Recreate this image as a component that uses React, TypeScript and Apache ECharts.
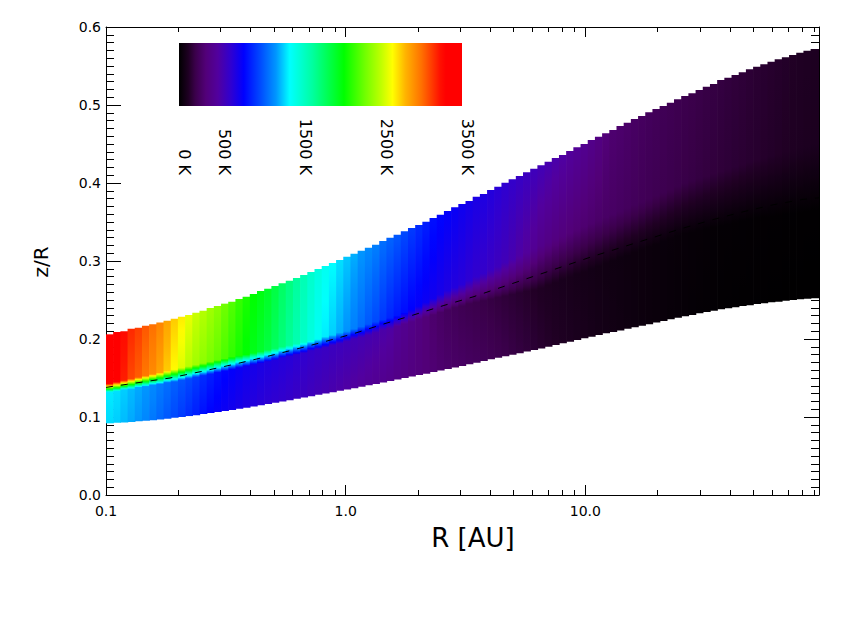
import React, { useEffect, useRef } from "react";
import * as echarts from "echarts";

// ---------------- data ----------------
const R_MIN = 0.1;
const R_MAX = 94.4;
const LOG_STEP = 0.03; // radial column width (decades)

// upper surface of the disk (z/R) per radial column
const zTop = [
  0.206, 0.209, 0.210, 0.213, 0.2145, 0.217, 0.219, 0.221, 0.2235, 0.226,
  0.2286, 0.2308, 0.2338, 0.2363, 0.2397, 0.2423, 0.2453, 0.2478, 0.2513, 0.2543,
  0.2577, 0.2615, 0.2645, 0.268, 0.2714, 0.2748, 0.2782, 0.2821, 0.2859, 0.2897,
  0.2936, 0.2974, 0.3013, 0.3055, 0.3094, 0.3132, 0.3171, 0.3209, 0.3256, 0.3299,
  0.3338, 0.338, 0.3423, 0.3462, 0.3504, 0.3551, 0.3594, 0.3641, 0.3688, 0.3731,
  0.3769, 0.3825, 0.3859, 0.391, 0.3953, 0.4004, 0.4047, 0.409, 0.4137, 0.4184,
  0.4227, 0.4274, 0.4321, 0.4359, 0.441, 0.4457, 0.45, 0.4551, 0.4594, 0.4637,
  0.4679, 0.4731, 0.4774, 0.4821, 0.4859, 0.4906, 0.4949, 0.4987, 0.503, 0.5073,
  0.5115, 0.515, 0.5192, 0.5235, 0.5269, 0.5321, 0.535, 0.5385, 0.5419, 0.5457,
  0.5491, 0.5522, 0.5556, 0.5586, 0.5612, 0.5641, 0.5671, 0.5697, 0.5718,
];
// lower surface of the disk (z/R)
const zBottom = [
  0.0919, 0.0925, 0.0931, 0.0937, 0.0944, 0.0951, 0.0959, 0.0968, 0.0978, 0.0989,
  0.1, 0.1012, 0.1024, 0.1037, 0.105, 0.1063, 0.1077, 0.1091, 0.1105, 0.112,
  0.1136, 0.1152, 0.1168, 0.1184, 0.12, 0.1216, 0.1233, 0.125, 0.1267, 0.1284,
  0.1301, 0.1318, 0.1335, 0.1352, 0.137, 0.1388, 0.1406, 0.1424, 0.1442, 0.1461,
  0.148, 0.1499, 0.1518, 0.1537, 0.1556, 0.1576, 0.1596, 0.1616, 0.1635, 0.1655,
  0.1676, 0.1697, 0.1718, 0.1739, 0.176, 0.1778, 0.1798, 0.1818, 0.1839, 0.1859,
  0.1878, 0.1902, 0.1923, 0.1944, 0.1966, 0.1987, 0.2009, 0.203, 0.2051, 0.2073,
  0.2091, 0.211, 0.213, 0.215, 0.2171, 0.219, 0.221, 0.2231, 0.2252, 0.2273,
  0.2291, 0.2308, 0.2329, 0.2346, 0.2363, 0.238, 0.2393, 0.2406, 0.2423, 0.2434,
  0.2449, 0.2459, 0.247, 0.2479, 0.2491, 0.25, 0.2509, 0.2517, 0.2524,
];
// top of the temperature transition layer (z/R)
const zTransTop = [
  0.143, 0.145, 0.147, 0.149, 0.151, 0.153, 0.155, 0.157, 0.159, 0.161,
  0.163, 0.165, 0.167, 0.169, 0.171, 0.173, 0.175, 0.177, 0.179, 0.18,
  0.182, 0.184, 0.186, 0.188, 0.19, 0.192, 0.194, 0.196, 0.198, 0.2,
  0.203, 0.205, 0.208, 0.21, 0.213, 0.216, 0.219, 0.222, 0.225, 0.227,
  0.23, 0.234, 0.238, 0.242, 0.247, 0.252, 0.257, 0.262, 0.266, 0.27,
  0.275, 0.28, 0.284, 0.289, 0.293, 0.298, 0.302, 0.307, 0.311, 0.316,
  0.32, 0.324, 0.328, 0.332, 0.336, 0.34, 0.344, 0.348, 0.352, 0.356,
  0.36, 0.364, 0.368, 0.372, 0.376, 0.38, 0.384, 0.388, 0.392, 0.396,
  0.4, 0.403, 0.406, 0.409, 0.412, 0.415, 0.418, 0.421, 0.424, 0.427,
  0.43, 0.432, 0.435, 0.437, 0.44, 0.442, 0.445, 0.447, 0.45,
];
// bottom of the temperature transition layer (z/R)
const zTransBottom = [
  0.132, 0.133, 0.135, 0.136, 0.138, 0.139, 0.141, 0.142, 0.144, 0.145,
  0.147, 0.149, 0.151, 0.153, 0.155, 0.157, 0.159, 0.161, 0.163, 0.165,
  0.167, 0.169, 0.171, 0.173, 0.176, 0.178, 0.18, 0.182, 0.185, 0.187,
  0.189, 0.192, 0.194, 0.197, 0.2, 0.202, 0.205, 0.208, 0.211, 0.213,
  0.216, 0.219, 0.222, 0.225, 0.228, 0.231, 0.234, 0.237, 0.24, 0.242,
  0.245, 0.247, 0.249, 0.251, 0.253, 0.255, 0.257, 0.259, 0.261, 0.263,
  0.265, 0.269, 0.272, 0.276, 0.279, 0.283, 0.286, 0.29, 0.293, 0.297,
  0.3, 0.304, 0.307, 0.311, 0.314, 0.318, 0.321, 0.325, 0.328, 0.332,
  0.335, 0.337, 0.339, 0.341, 0.343, 0.345, 0.347, 0.349, 0.351, 0.353,
  0.355, 0.356, 0.357, 0.358, 0.36, 0.361, 0.362, 0.363, 0.365,
];
// temperatures (K)
const tSurface = [
  3450, 3380, 3250, 3170, 3120, 3060, 3000, 2940, 2850, 2750,
  2680, 2590, 2520, 2470, 2420, 2370, 2300, 2230, 2160, 2100,
  2040, 2000, 1950, 1880, 1800, 1730, 1660, 1590, 1520, 1460,
  1410, 1370, 1320, 1280, 1240, 1200, 1170, 1140, 1100, 1070,
  1040, 1000, 960, 920, 880, 840, 810, 790, 770, 750,
  730, 715, 700, 685, 665, 645, 625, 605, 590, 575,
  560, 540, 520, 495, 470, 450, 425, 400, 370, 335,
  305, 295, 285, 272, 260, 250, 242, 234, 226, 218,
  210, 204, 198, 192, 186, 180, 174, 168, 162, 156,
  150, 145, 140, 135, 130, 122, 118, 114, 110,
];
const tAboveTrans = [
  3350, 3300, 3200, 3100, 3050, 2980, 2920, 2850, 2750, 2650,
  2560, 2480, 2420, 2370, 2320, 2270, 2210, 2150, 2090, 2030,
  1980, 1930, 1880, 1810, 1740, 1670, 1600, 1530, 1460, 1400,
  1340, 1290, 1240, 1190, 1140, 1090, 1040, 1000, 950, 900,
  860, 830, 800, 780, 760, 740, 720, 700, 685, 670,
  650, 635, 620, 600, 580, 560, 530, 500, 470, 440,
  400, 380, 360, 345, 330, 318, 306, 295, 285, 275,
  270, 262, 254, 246, 238, 230, 223, 216, 209, 202,
  195, 189, 183, 177, 171, 165, 160, 155, 150, 145,
  140, 135, 130, 125, 120, 114, 110, 106, 102,
];
const tBelowTrans = [
  1340, 1320, 1290, 1260, 1230, 1200, 1170, 1130, 1100, 1060,
  1030, 1000, 960, 920, 880, 840, 810, 790, 770, 750,
  730, 715, 700, 690, 680, 670, 655, 640, 625, 610,
  600, 590, 580, 570, 560, 550, 540, 530, 515, 500,
  450, 420, 390, 360, 330, 300, 275, 255, 240, 225,
  215, 205, 195, 185, 175, 165, 155, 145, 135, 125,
  115, 108, 101, 95, 89, 83, 78, 73, 68, 63,
  58, 54, 50, 47, 44, 41, 38, 35, 32, 29,
  26, 24, 22, 20, 18, 16, 15, 14, 13, 12,
  11, 11, 10, 10, 9, 9, 8, 8, 8,
];
const tMidplane = [
  1310, 1290, 1260, 1230, 1200, 1160, 1120, 1080, 1040, 1000,
  960, 920, 880, 840, 800, 780, 760, 740, 720, 700,
  680, 665, 650, 640, 630, 615, 600, 585, 570, 555,
  540, 525, 510, 495, 480, 465, 450, 435, 420, 405,
  390, 375, 360, 345, 330, 315, 300, 290, 280, 270,
  260, 250, 240, 230, 218, 205, 192, 180, 168, 155,
  143, 132, 122, 113, 105, 98, 91, 84, 78, 72,
  66, 60, 55, 50, 45, 40, 36, 32, 28, 25,
  22, 19, 16, 14, 12, 10, 9, 8, 7, 6,
  5, 5, 4, 4, 3, 3, 3, 2, 2,
];

// dashed curve
const dashR = [0.1, 0.136, 0.185, 0.247, 0.336, 0.448, 0.603, 0.804, 1.084, 1.432, 1.927, 2.57, 3.4, 4.53, 6.04, 8.07, 10.76, 14.35, 19.1, 25.5, 34.0, 45.4, 60.6, 80.9, 94.4];
const dashZ = [0.138, 0.144, 0.15, 0.158, 0.167, 0.176, 0.186, 0.196, 0.207, 0.219, 0.231, 0.243, 0.254, 0.267, 0.28, 0.293, 0.306, 0.318, 0.33, 0.342, 0.353, 0.363, 0.372, 0.379, 0.381];

// colour table (temperature K -> rgb)
const cmapT = [0, 120, 200, 330, 480, 640, 800, 1000, 1200, 1370, 1650, 2040, 2300, 2500, 2640, 2800, 3000, 3230, 3300, 3500];
const cmapRGB = [
  [0, 0, 0], [32, 0, 36], [58, 0, 74], [82, 0, 120], [82, 0, 158], [48, 0, 208],
  [0, 0, 255], [0, 72, 255], [0, 150, 255], [0, 255, 255], [0, 255, 160], [0, 255, 0],
  [112, 255, 0], [192, 255, 0], [255, 255, 0], [255, 180, 0], [255, 112, 0], [255, 16, 0],
  [255, 0, 0], [255, 0, 0],
];
const T_MAX = 3500;
const barTicks = [0, 500, 1500, 2500, 3500];
const barLabels = ["0 K", "500 K", "1500 K", "2500 K", "3500 K"];

const xMinorTicks = [0.2, 0.3, 0.4, 0.5, 0.6, 0.7, 0.8, 0.9, 2, 3, 4, 5, 6, 7, 8, 9, 20, 30, 40, 50, 60, 70, 80, 90];

// ---------------- helpers ----------------
function tempColor(t: number): string {
  const tt = Math.max(0, Math.min(T_MAX, t));
  let j = 0;
  while (j < cmapT.length - 2 && tt > cmapT[j + 1]) j++;
  const f = (tt - cmapT[j]) / (cmapT[j + 1] - cmapT[j] || 1);
  const a = cmapRGB[j], b = cmapRGB[j + 1];
  const c = a.map((v, k) => Math.round(v + (b[k] - v) * f));
  return `rgb(${c[0]},${c[1]},${c[2]})`;
}

const FONT = "DejaVu Sans";

export default function App() {
  const ref = useRef<HTMLDivElement>(null);

  useEffect(() => {
    if (!ref.current) return;
    const chart = echarts.init(ref.current, null, { renderer: "svg" });

    const n = zTop.length;
    const columns = zTop.map((zt, i) => {
      const rL = R_MIN * Math.pow(10, LOG_STEP * i);
      const rR = i === n - 1 ? R_MAX : Math.min(R_MAX, R_MIN * Math.pow(10, LOG_STEP * (i + 1)));
      return [rL, rR, zBottom[i], zt, zTransBottom[i], zTransTop[i], tSurface[i], tAboveTrans[i], tBelowTrans[i], tMidplane[i], i];
    });

    const barX0 = 179, barY0 = 43, barW = 283, barH = 63;
    const barStops = cmapT.map((t, k) => ({ offset: t / T_MAX, color: `rgb(${cmapRGB[k].join(",")})` }));

    const xLabel = (v: number) => {
      const l = Math.log10(v);
      if (Math.abs(l - Math.round(l)) > 1e-6) return "";
      return v.toFixed(Math.max(1, -Math.round(l)));
    };

    const axisCommon = {
      axisLine: { show: true, onZero: false, lineStyle: { color: "#000", width: 1 } },
      splitLine: { show: false },
      minorSplitLine: { show: false },
    };

    const option: any = {
      animation: false,
      backgroundColor: "#fff",
      grid: { left: 106, top: 27, width: 713, height: 468, containLabel: false },
      xAxis: [
        {
          type: "log", logBase: 10, min: R_MIN, max: R_MAX, position: "bottom",
          ...axisCommon,
          axisTick: { show: true, inside: true, length: 10, lineStyle: { color: "#000" } },
          axisLabel: { show: true, formatter: xLabel, color: "#000", fontSize: 14, fontFamily: FONT, margin: 9 },
        },
        {
          type: "log", logBase: 10, min: R_MIN, max: R_MAX, position: "top",
          ...axisCommon,
          axisTick: { show: true, inside: true, length: 10, lineStyle: { color: "#000" } },
          axisLabel: { show: false },
        },
      ],
      yAxis: [
        {
          type: "value", min: 0, max: 0.6, interval: 0.1, position: "left",
          ...axisCommon,
          axisTick: { show: true, inside: true, length: 15, lineStyle: { color: "#000" } },
          minorTick: { show: true, splitNumber: 10, length: 8, lineStyle: { color: "#000" } },
          axisLabel: { show: true, formatter: (v: number) => v.toFixed(1), color: "#000", fontSize: 14, fontFamily: FONT, margin: 5 },
        },
        {
          type: "value", min: 0, max: 0.6, interval: 0.1, position: "right",
          ...axisCommon,
          axisTick: { show: true, inside: true, length: 15, lineStyle: { color: "#000" } },
          minorTick: { show: true, splitNumber: 10, length: 8, lineStyle: { color: "#000" } },
          axisLabel: { show: false },
        },
      ],
      series: [
        {
          type: "custom",
          name: "temperature",
          coordinateSystem: "cartesian2d",
          xAxisIndex: 0, yAxisIndex: 0,
          clip: true,
          encode: { x: [0, 1], y: [2, 3] },
          data: columns,
          renderItem: (params: any, api: any) => {
            const rL = api.value(0), rR = api.value(1);
            const zb = api.value(2), zt = api.value(3);
            const z2 = api.value(4), z1 = api.value(5);
            const tU = api.value(6), tM = api.value(7), tL = api.value(8), tB = api.value(9);
            const last = api.value(10) === n - 1;
            const pTL = api.coord([rL, zt]);
            const pBR = api.coord([rR, zb]);
            const frac = (z: number) => Math.min(1, Math.max(0, (zt - z) / (zt - zb)));
            const a = frac(z1), b = Math.max(a, frac(z2));
            const stops: any[] = [];
            const seg = (o0: number, o1: number, t0: number, t1: number, m: number) => {
              for (let k = 0; k <= m; k++) {
                const f = k / m;
                stops.push({ offset: o0 + (o1 - o0) * f, color: tempColor(t0 + (t1 - t0) * f) });
              }
            };
            seg(0, a, tU, tM, 4);
            seg(a, b, tM, tL, 14);
            seg(b, 1, tL, tB, 5);
            return {
              type: "rect",
              shape: { x: pTL[0], y: pTL[1], width: pBR[0] - pTL[0] + (last ? 0 : 0.7), height: pBR[1] - pTL[1] },
              style: { fill: new echarts.graphic.LinearGradient(0, 0, 0, 1, stops), stroke: null },
            };
          },
          z: 2,
        },
        {
          type: "line",
          name: "surface",
          xAxisIndex: 0, yAxisIndex: 0,
          data: dashR.map((r, i) => [r, dashZ[i]]),
          symbol: "none",
          lineStyle: { color: "#000", width: 1, type: [7, 8] },
          z: 3,
        },
        {
          type: "custom",
          name: "minorTicks",
          coordinateSystem: "cartesian2d",
          xAxisIndex: 0, yAxisIndex: 0,
          encode: { x: 0, y: 1 },
          data: xMinorTicks.map((v) => [v, 0]),
          renderItem: (params: any, api: any) => {
            const v = api.value(0);
            const pb = api.coord([v, 0]);
            const pt = api.coord([v, 0.6]);
            const x = Math.round(pb[0]) + 0.5;
            return {
              type: "group",
              children: [
                { type: "line", shape: { x1: x, y1: pb[1], x2: x, y2: pb[1] - 5 }, style: { stroke: "#000", lineWidth: 1 } },
                { type: "line", shape: { x1: x, y1: pt[1], x2: x, y2: pt[1] + 5 }, style: { stroke: "#000", lineWidth: 1 } },
              ],
            };
          },
          z: 4,
        },
      ],
      graphic: [
        {
          type: "rect",
          shape: { x: barX0, y: barY0, width: barW, height: barH },
          style: { fill: new echarts.graphic.LinearGradient(0, 0, 1, 0, barStops) },
          z: 10,
        },
        ...barTicks.map((t, k) => ({
          type: "text",
          x: barX0 + (t / T_MAX) * barW + 5,
          y: 175,
          rotation: -Math.PI / 2,
          style: {
            text: barLabels[k],
            fill: "#000",
            fontSize: 16,
            fontFamily: FONT,
            align: "right",
            verticalAlign: "middle",
          },
          z: 10,
        })),
        {
          type: "text",
          x: 41,
          y: 262,
          rotation: Math.PI / 2,
          style: { text: "z/R", fill: "#000", fontSize: 20, fontFamily: FONT, align: "center", verticalAlign: "middle" },
          z: 10,
        },
        {
          type: "text",
          x: 473,
          y: 538,
          style: { text: "R [AU]", fill: "#000", fontSize: 26, fontFamily: FONT, align: "center", verticalAlign: "middle" },
          z: 10,
        },
      ],
    };

    chart.setOption(option);
    return () => chart.dispose();
  }, []);

  return (
    <div
      ref={ref}
      style={{ position: "fixed", left: 0, top: 0, width: 847, height: 629, background: "#fff" }}
    />
  );
}
